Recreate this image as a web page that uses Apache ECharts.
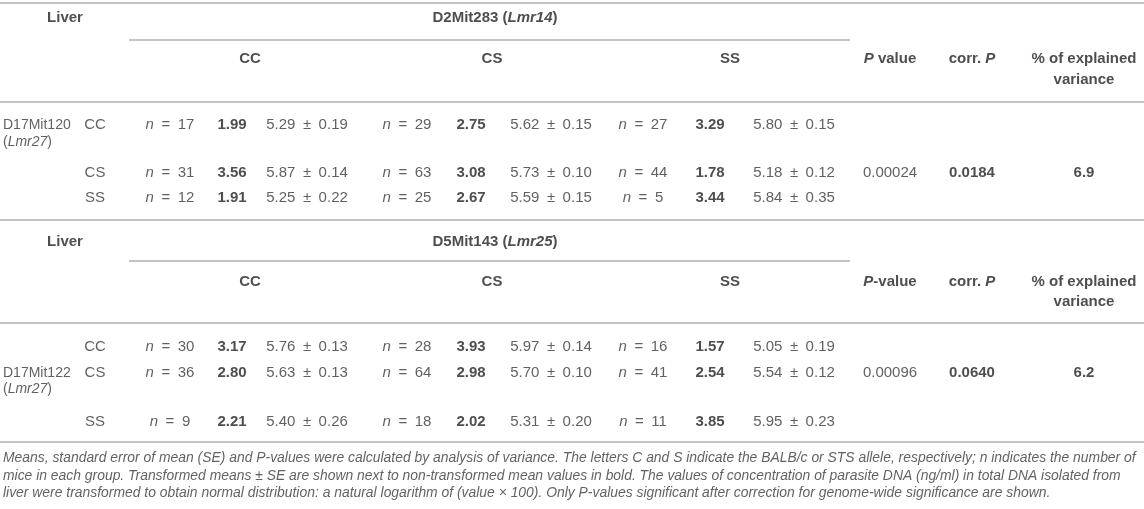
<!DOCTYPE html>
<html><head><meta charset="utf-8">
<script src="https://cdn.jsdelivr.net/npm/echarts@6/dist/echarts.min.js"></script>
<style>html,body{margin:0;padding:0;background:#fff}#c{width:1144px;height:509px}</style>
</head><body><div id="c"></div>
<script>
// ---------- data ----------
const tissue = 'Liver';
const genotypes = ['CC', 'CS', 'SS'];
const statHeaders1 = ['P value', 'corr. P', '% of explained', 'variance'];
const statHeaders2 = ['P-value', 'corr. P', '% of explained', 'variance'];

const t1RowMarker = ['D17Mit120', 'Lmr27'];
const t1ColMarker = ['D2Mit283', 'Lmr14'];
const t1N     = [[17, 29, 27], [31, 63, 44], [12, 25, 5]];
const t1Mean  = [[1.99, 2.75, 3.29], [3.56, 3.08, 1.78], [1.91, 2.67, 3.44]];
const t1TMean = [[5.29, 5.62, 5.80], [5.87, 5.73, 5.18], [5.25, 5.59, 5.84]];
const t1SE    = [[0.19, 0.15, 0.15], [0.14, 0.10, 0.12], [0.22, 0.15, 0.35]];
const t1Stats = ['0.00024', '0.0184', '6.9'];

const t2RowMarker = ['D17Mit122', 'Lmr27'];
const t2ColMarker = ['D5Mit143', 'Lmr25'];
const t2N     = [[30, 28, 16], [36, 64, 41], [9, 18, 11]];
const t2Mean  = [[3.17, 3.93, 1.57], [2.80, 2.98, 2.54], [2.21, 2.02, 3.85]];
const t2TMean = [[5.76, 5.97, 5.05], [5.63, 5.70, 5.54], [5.40, 5.31, 5.95]];
const t2SE    = [[0.13, 0.14, 0.19], [0.13, 0.10, 0.12], [0.26, 0.20, 0.23]];
const t2Stats = ['0.00096', '0.0640', '6.2'];

const footnote = [
  'Means, standard error of mean (SE) and P-values were calculated by analysis of variance. The letters C and S indicate the BALB/c or STS allele, respectively; n indicates the number of',
  'mice in each group. Transformed means \u00b1 SE are shown next to non-transformed mean values in bold. The values of concentration of parasite DNA (ng/ml) in total DNA isolated from',
  'liver were transformed to obtain normal distribution: a natural logarithm of (value \u00d7 100). Only P-values significant after correction for genome-wide significance are shown.'
];

// ---------- layout (page units) ----------
const W = 1144, H = 509;
const COL = {
  liver: 65, label: 3, geno: 95,
  n: [170, 407, 643], mean: [232, 471, 710], trans: [307, 551, 794],
  grp: [250, 492, 730], span: [129, 850], title: 495,
  p: 890, corr: 972, pct: 1084
};
const TABLES = [
  { top: 3, h1: 18, sub: 40, h2: 59, h2b: 80, rule: 102, rows: [125, 173, 198],
    markerRow: 0, locusY: 142, statRow: 1, bottom: 220 },
  { top: null, h1: 242, sub: 261, h2: 282, h2b: 302, rule: 323, rows: [347, 373, 422],
    markerRow: 1, locusY: 389, statRow: 1, bottom: 442 }
];
const FOOT_Y = [458, 476, 493];

// ---------- build marks ----------
const F = '"Liberation Sans", Arial, Helvetica, sans-serif';
const TXT = '#383838', BOLD = '#222222';
const FS = 15;
const SP = '\u2002';
const rich = {
  r:  { fontFamily: F, fontSize: FS, color: TXT },
  i:  { fontFamily: F, fontSize: FS, color: TXT, fontStyle: 'italic' },
  lr: { fontFamily: F, fontSize: 14, color: TXT },
  li: { fontFamily: F, fontSize: 14, color: TXT, fontStyle: 'italic' },
  b:  { fontFamily: F, fontSize: FS, color: BOLD, fontWeight: 'bold' },
  bi: { fontFamily: F, fontSize: FS, color: BOLD, fontWeight: 'bold', fontStyle: 'italic' },
  f:  { fontFamily: F, fontSize: 13.9, color: '#3a3a3a', fontStyle: 'italic' }
};
const cells = [];
const rules = [];
function add(x, y, t, align) {
  cells.push({ value: [x, y], label: { formatter: t, align: align || 'center' } });
}
function rule(x1, x2, y) { rules.push({ coords: [[x1, y], [x2, y]] }); }

const tables = [
  { row: t1RowMarker, col: t1ColMarker, n: t1N, mean: t1Mean, tm: t1TMean, se: t1SE, stats: t1Stats, heads: statHeaders1 },
  { row: t2RowMarker, col: t2ColMarker, n: t2N, mean: t2Mean, tm: t2TMean, se: t2SE, stats: t2Stats, heads: statHeaders2 }
];

tables.forEach((tb, k) => {
  const L = TABLES[k];
  if (L.top != null) rule(0, W, L.top);
  add(COL.liver, L.h1, '{b|' + tissue + '}');
  add(COL.title, L.h1, '{b|' + tb.col[0] + ' (}{bi|' + tb.col[1] + '}{b|)}');
  rule(COL.span[0], COL.span[1], L.sub);
  genotypes.forEach((g, j) => add(COL.grp[j], L.h2, '{b|' + g + '}'));
  const ph = tb.heads[0];
  add(COL.p, L.h2, '{bi|P}{b|' + ph.slice(1) + '}');
  add(COL.corr, L.h2, '{b|corr. }{bi|P}');
  add(COL.pct, L.h2, '{b|' + tb.heads[2] + '}');
  add(COL.pct, L.h2b, '{b|' + tb.heads[3] + '}');
  rule(0, W, L.rule);
  // row marker
  add(COL.label, L.rows[L.markerRow], '{lr|' + tb.row[0] + '}', 'left');
  add(COL.label, L.locusY, '{lr|(}{li|' + tb.row[1] + '}{lr|)}', 'left');
  genotypes.forEach((g, i) => {
    const y = L.rows[i];
    add(COL.geno, y, '{r|' + g + '}');
    for (let j = 0; j < 3; j++) {
      add(COL.n[j], y, '{i|n}{r|' + SP + '=' + SP + tb.n[i][j] + '}');
      add(COL.mean[j], y, '{b|' + tb.mean[i][j].toFixed(2) + '}');
      add(COL.trans[j], y, '{r|' + tb.tm[i][j].toFixed(2) + SP + '\u00b1' + SP + tb.se[i][j].toFixed(2) + '}');
    }
  });
  const sy = L.rows[L.statRow];
  add(COL.p, sy, '{r|' + tb.stats[0] + '}');
  add(COL.corr, sy, '{b|' + tb.stats[1] + '}');
  add(COL.pct, sy, '{b|' + tb.stats[2] + '}');
  rule(0, W, L.bottom);
});
footnote.forEach((line, i) => add(3, FOOT_Y[i], '{f|' + line + '}', 'left'));

const chart = echarts.init(document.getElementById('c'), null, { renderer: 'canvas' });
chart.setOption({
  animation: false,
  backgroundColor: '#ffffff',
  grid: { left: 0, right: 0, top: 0, bottom: 0 },
  xAxis: { type: 'value', min: 0, max: W, show: false },
  yAxis: { type: 'value', min: 0, max: H, inverse: true, show: false },
  series: [
    {
      type: 'lines', coordinateSystem: 'cartesian2d', silent: true,
      lineStyle: { color: '#c4c4c4', width: 1.8, opacity: 1 },
      data: rules
    },
    {
      type: 'scatter', symbolSize: 0, silent: true,
      label: { show: true, position: 'inside', verticalAlign: 'middle', rich: rich,
               fontFamily: F, fontSize: FS, color: TXT },
      data: cells
    }
  ]
});
</script></body></html>
